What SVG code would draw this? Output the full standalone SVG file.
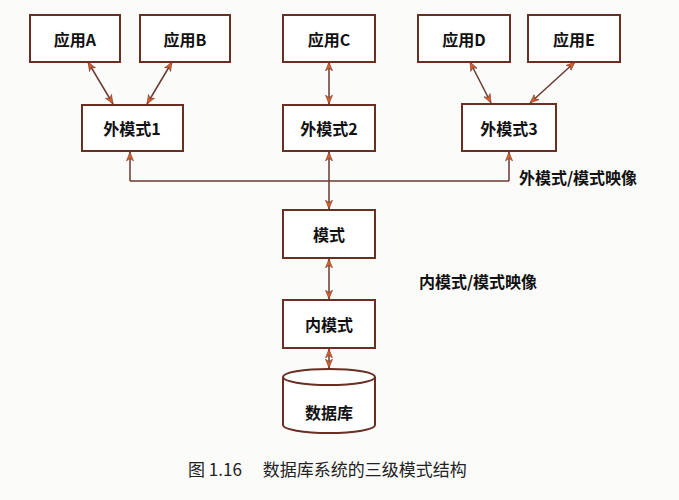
<svg xmlns="http://www.w3.org/2000/svg" width="679" height="500" viewBox="0 0 679 500">
<defs>
<marker id="ah" viewBox="0 0 10 10" refX="10" refY="5" markerWidth="9" markerHeight="9" orient="auto-start-reverse" markerUnits="userSpaceOnUse">
<path d="M0,1 L10,5 L0,9 L3,5 Z" fill="#d0602e" stroke="#7a3020" stroke-width="0.6"/>
</marker>
<style>
.b{fill:#fff;stroke:#6a2e22;stroke-width:2}
.t{font-family:"Noto Sans CJK SC","Liberation Serif",serif;font-size:16px;font-weight:bold;fill:#111;text-anchor:middle;dominant-baseline:central}
.c{stroke:#6a3a30;stroke-width:1.5;fill:none;marker-start:url(#ah);marker-end:url(#ah)}
.s{stroke:#6a3a30;stroke-width:1.5;fill:none}
</style>
</defs>
<rect width="679" height="500" fill="#fbfbfa"/>
<g id="appA"><rect class="b" x="30" y="15" width="90" height="47"/><text class="t" x="75" y="39">应用A</text></g>
<g id="appB"><rect class="b" x="140" y="15" width="90" height="47"/><text class="t" x="185" y="39">应用B</text></g>
<g id="appC"><rect class="b" x="283" y="15" width="92" height="47"/><text class="t" x="329" y="39">应用C</text></g>
<g id="appD"><rect class="b" x="418" y="15" width="92" height="47"/><text class="t" x="464" y="39">应用D</text></g>
<g id="appE"><rect class="b" x="528" y="15" width="92" height="47"/><text class="t" x="574" y="39">应用E</text></g>
<g id="ext1"><rect class="b" x="82" y="105" width="101" height="46"/><text class="t" x="132" y="128">外模式1</text></g>
<g id="ext2"><rect class="b" x="283" y="105" width="92" height="46"/><text class="t" x="329" y="128">外模式2</text></g>
<g id="ext3"><rect class="b" x="462" y="104" width="94" height="47"/><text class="t" x="509" y="128">外模式3</text></g>
<g id="schema"><rect class="b" x="283" y="210" width="92" height="48"/><text class="t" x="329" y="234">模式</text></g>
<g id="internal"><rect class="b" x="283" y="300" width="92" height="48"/><text class="t" x="329" y="324">内模式</text></g>
<g id="db">
<path class="b" d="M283,377 L283,425 A46,8 0 0 0 375,425 L375,377"/>
<ellipse class="b" cx="329" cy="377" rx="46" ry="8"/>
<text class="t" x="329" y="412">数据库</text>
</g>
<g id="connectors">
<line class="c" x1="88" y1="62" x2="113" y2="104"/>
<line class="c" x1="172" y1="62" x2="147" y2="104"/>
<line class="c" x1="329" y1="62" x2="329" y2="104"/>
<line class="c" x1="470" y1="62" x2="491" y2="103"/>
<line class="c" x1="575" y1="62" x2="530" y2="103"/>
<polyline class="s" points="130,181 509,181" />
<line class="s" x1="130" y1="181" x2="130" y2="152" style="marker-end:url(#ah)"/>
<line class="s" x1="509" y1="181" x2="509" y2="152" style="marker-end:url(#ah)"/>
<line class="c" x1="329" y1="152" x2="329" y2="209"/>
<line class="c" x1="329" y1="259" x2="329" y2="299"/>
<line class="c" x1="329" y1="349" x2="329" y2="368"/>
</g>
<text class="t" x="578" y="177">外模式/模式映像</text>
<text class="t" x="478" y="281">内模式/模式映像</text>
<text x="188" y="476" style="font-family:'Noto Sans CJK SC','Liberation Serif',serif;font-size:17px;fill:#222">图 1.16　 数据库系统的三级模式结构</text>
</svg>
